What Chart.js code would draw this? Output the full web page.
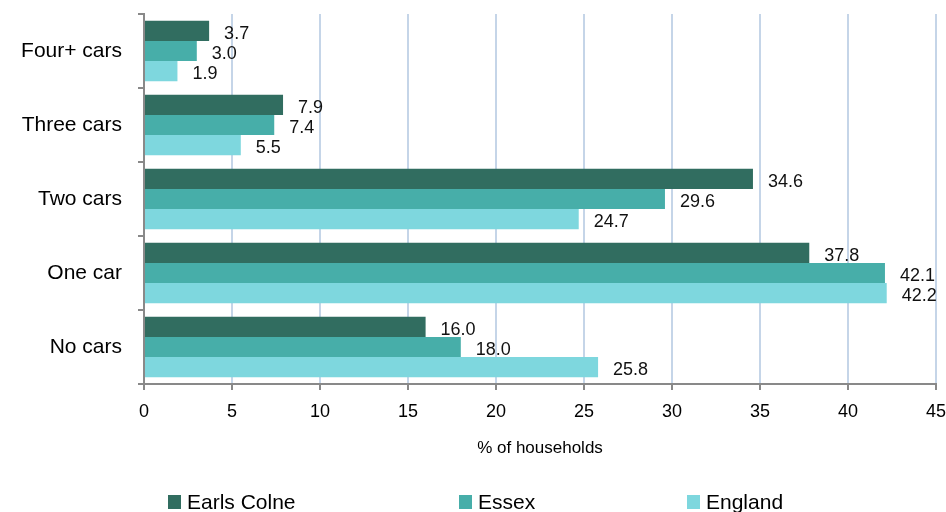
<!DOCTYPE html>
<html>
<head>
<meta charset="utf-8">
<script src="https://cdn.jsdelivr.net/npm/chart.js@4/dist/chart.umd.min.js"></script>
<style>
html,body{margin:0;padding:0;background:#fff;overflow:hidden;}
#wrap{width:946px;height:512px;position:relative;}
</style>
</head>
<body>
<div id="wrap"><canvas id="c" width="946" height="512"></canvas></div>
<script>
const categories = ["Four+ cars", "Three cars", "Two cars", "One car", "No cars"];
const earlsColne = [3.7, 7.9, 34.6, 37.8, 16.0];
const essex = [3.0, 7.4, 29.6, 42.1, 18.0];
const england = [1.9, 5.5, 24.7, 42.2, 25.8];
const seriesNames = ["Earls Colne", "Essex", "England"];
const xTicks = [0, 5, 10, 15, 20, 25, 30, 35, 40, 45];
const axisTitle = "% of households";

const colors = ["#316D60", "#47AEA9", "#7ED7DE"];
const FONT = "'Liberation Sans', Arial, sans-serif";

const valueLabels = {
  id: 'valueLabels',
  afterDatasetsDraw(chart) {
    const ctx = chart.ctx;
    ctx.save();
    ctx.font = "18px " + FONT;
    ctx.fillStyle = "#111";
    ctx.textAlign = "left";
    ctx.textBaseline = "middle";
    chart.data.datasets.forEach((ds, i) => {
      const meta = chart.getDatasetMeta(i);
      meta.data.forEach((el, j) => {
        ctx.fillText(Number(ds.data[j]).toFixed(1), el.x + 15, el.y + 3);
      });
    });
    ctx.restore();
  }
};

const bottomLegend = {
  id: 'bottomLegend',
  afterDraw(chart) {
    const ctx = chart.ctx;
    const xs = [168, 459, 687];
    const cy = 502;
    ctx.save();
    ctx.font = "21px " + FONT;
    ctx.textBaseline = "middle";
    ctx.textAlign = "left";
    chart.data.datasets.forEach((ds, i) => {
      ctx.fillStyle = ds.backgroundColor;
      ctx.fillRect(xs[i], cy - 7, 13, 14);
      ctx.fillStyle = "#000";
      ctx.fillText(ds.label, xs[i] + 19, cy + 1);
    });
    ctx.restore();
  }
};

new Chart(document.getElementById('c'), {
  type: 'bar',
  data: {
    labels: categories,
    datasets: [
      { label: seriesNames[0], data: earlsColne, backgroundColor: colors[0] },
      { label: seriesNames[1], data: essex, backgroundColor: colors[1] },
      { label: seriesNames[2], data: england, backgroundColor: colors[2] }
    ]
  },
  options: {
    indexAxis: 'y',
    responsive: false,
    animation: false,
    devicePixelRatio: 1,
    layout: { padding: { top: 14, right: 10, bottom: 0, left: 0 } },
    datasets: { bar: { categoryPercentage: 0.82, barPercentage: 1.0 } },
    plugins: {
      legend: { display: false },
      tooltip: { enabled: false }
    },
    scales: {
      x: {
        min: 0, max: 45,
        afterBuildTicks(axis) { axis.ticks = xTicks.map(v => ({ value: v })); },
        afterFit(axis) { axis.height = 128; axis.paddingLeft = 0; axis.paddingRight = 0; },
        ticks: { font: { family: FONT, size: 18 }, color: "#000", padding: 11, maxRotation: 0 },
        grid: {
          color: (c) => (c.tick && c.tick.value === 0) ? 'rgba(0,0,0,0)' : '#C5D5E8',
          lineWidth: 2,
          tickColor: '#898989',
          tickLength: 6,
          drawTicks: true
        },
        border: { display: true, color: '#898989', width: 2 },
        title: {
          display: true, text: axisTitle,
          font: { family: FONT, size: 17 }, color: "#000",
          padding: { top: 0, bottom: 53 }
        }
      },
      y: {
        afterFit(axis) { axis.width = 144; axis.paddingTop = 0; axis.paddingBottom = 0; },
        ticks: { font: { family: FONT, size: 21 }, color: "#000", padding: 16 },
        grid: {
          offset: true,
          drawOnChartArea: false,
          color: '#898989',
          tickColor: '#898989',
          tickLength: 6,
          lineWidth: 2
        },
        border: { display: true, color: '#898989', width: 2 }
      }
    }
  },
  plugins: [valueLabels, bottomLegend]
});
</script>
</body>
</html>
